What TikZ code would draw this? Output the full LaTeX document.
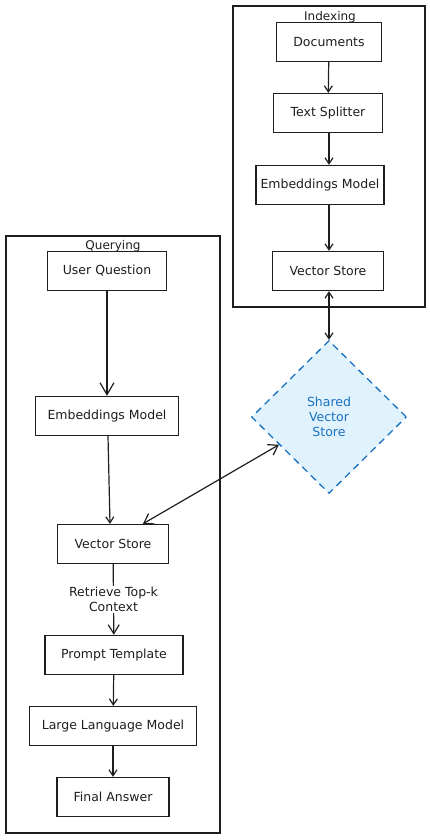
\documentclass[tikz,border=0pt]{standalone}
\usepackage{fontspec}
\setmainfont{DejaVu Sans}
\usetikzlibrary{arrows.meta,shapes.geometric}
\definecolor{shareblue}{HTML}{1971C2}
\definecolor{sharefill}{HTML}{E0F2FC}
\definecolor{ink}{HTML}{1E1E1E}
\begin{document}
\begin{tikzpicture}[x=1pt,y=-1pt, color=ink,
  stepbox/.style={draw, line width=1.3pt, minimum height=39pt, inner sep=0pt, font=\fontsize{12.5}{15}\selectfont},
  frame/.style={draw, line width=1.3pt},
  flow/.style={draw, line width=1.2pt, -{Straight Barb[length=6pt,width=8pt]}},
  title/.style={font=\fontsize{12}{14}\selectfont}]
\useasboundingbox (0,0) rectangle (430,840);
% the two frames
\draw[frame] (233,6) rectangle (425,307);
\node[title] (indexing) at (330,17) {Indexing};
\draw[frame] (6,236) rectangle (220,833);
\node[title] (querying) at (113,246) {Querying};
% indexing steps
\node[stepbox, minimum width=105pt] (docs) at (329,42) {Documents};
\node[stepbox, minimum width=109pt] (split) at (328,113) {Text Splitter};
\node[stepbox, minimum width=128pt] (embi) at (320,185) {Embeddings Model};
\node[stepbox, minimum width=111pt] (vsi) at (328,271) {Vector Store};
% shared store
\node[draw=shareblue, fill=sharefill, dash pattern=on 7pt off 5pt, line width=1.3pt, shape=diamond, minimum width=155pt, minimum height=153pt, inner sep=0pt, align=center, text=shareblue, font=\fontsize{12.5}{15}\selectfont] (share) at (329,417) {Shared\\Vector\\Store};
% querying steps
\node[stepbox, minimum width=119pt] (ques) at (107,271) {User Question};
\node[stepbox, minimum width=143pt] (embq) at (107,416) {Embeddings Model};
\node[stepbox, minimum width=111pt] (vsq) at (113,544) {Vector Store};
\node[stepbox, minimum width=138pt] (prompt) at (114,655) {Prompt Template};
\node[stepbox, minimum width=167pt] (llm) at (113,726) {Large Language Model};
\node[stepbox, minimum width=112pt] (answer) at (113,797) {Final Answer};
% connectors
\draw[flow] (docs) -- (split);
\draw[flow] (split.south -| docs) -- (embi.north -| docs);
\draw[flow] (embi.south -| docs) -- (vsi.north -| docs);
\draw[flow, {Straight Barb[length=6pt,width=8pt]}-{Straight Barb[length=6pt,width=8pt]}] (vsi.south -| docs) -- (share);
\draw[flow, -{Straight Barb[length=12pt,width=14pt]}] (ques) -- (embq);
\draw[flow] (embq.south -| 108,0) -- (vsq.north -| 110,0);
\draw[flow, {Straight Barb[length=9pt,width=12pt]}-{Straight Barb[length=9pt,width=12pt]}] (vsq.34) -- (share.209);
\draw[flow, -{Straight Barb[length=9pt,width=11pt]}] (vsq) -- node[fill=white, align=center, inner sep=1pt, font=\fontsize{12.5}{15}\selectfont] (retrieve) {Retrieve Top-k\\Context} (prompt);
\draw[flow] (prompt) -- (llm);
\draw[flow] (llm) -- (answer);
\end{tikzpicture}
\end{document}
